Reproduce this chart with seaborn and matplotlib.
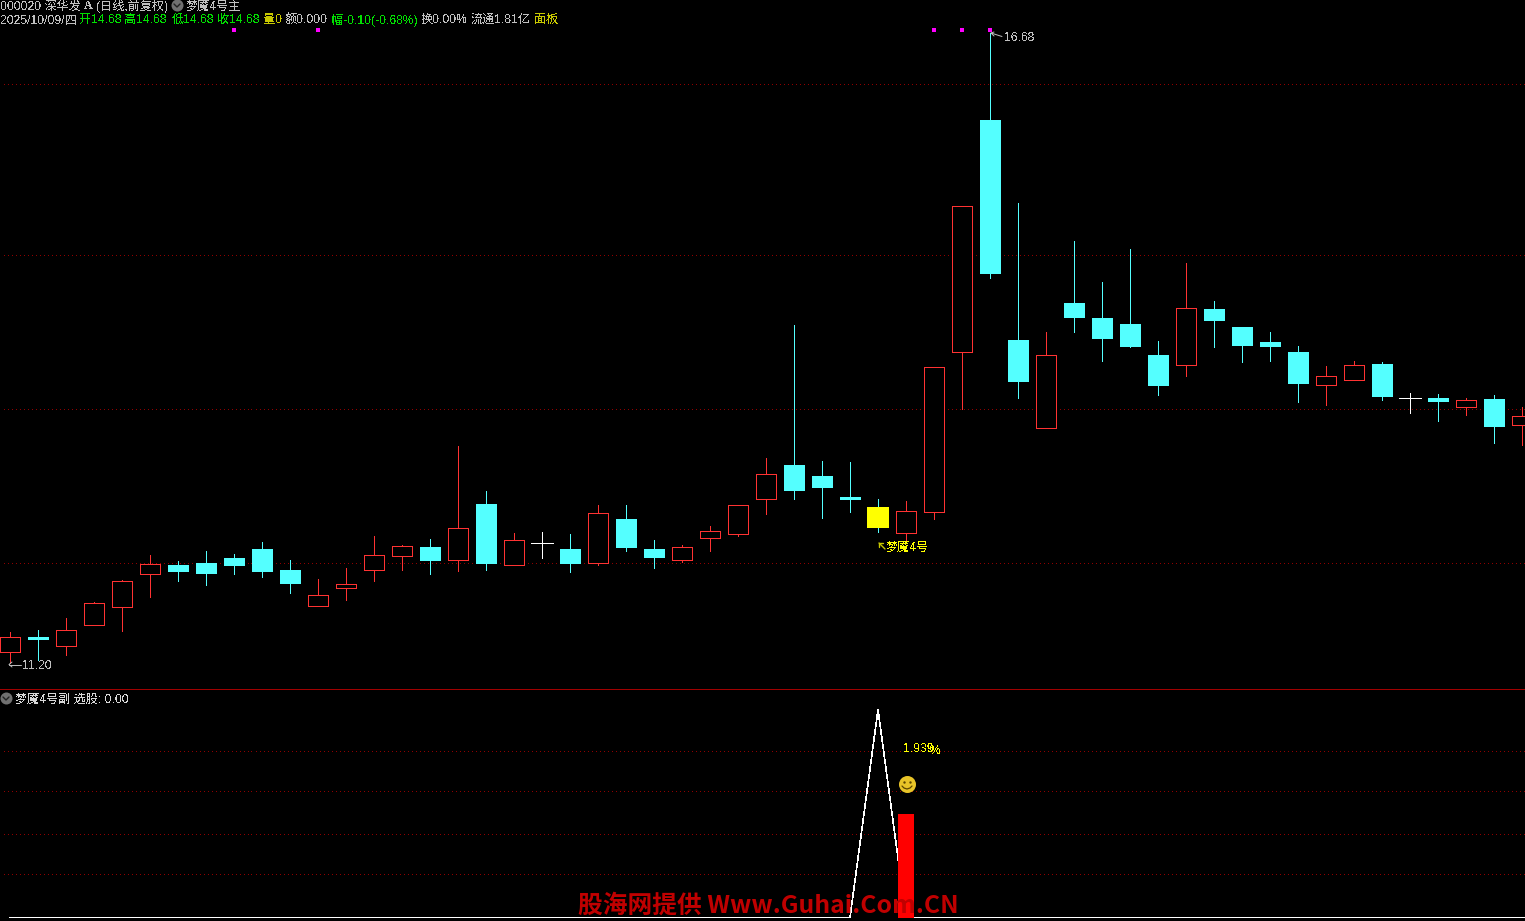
import matplotlib
matplotlib.use("Agg")
import matplotlib.pyplot as plt
import numpy as np
import seaborn as sns

W, H = 1525, 921
PANEL_Y = 689

opens = [11.30, 11.43, 11.35, 11.53, 11.69, 11.97, 12.05, 12.07, 12.11, 12.19, 12.01, 11.70, 11.85, 12.01,
         12.13, 12.21, 12.10, 12.58, 12.05, 12.24, 12.19, 12.07, 12.45, 12.19, 12.10, 12.29, 12.32, 12.63,
         12.92, 12.83, 12.64, 12.56, 12.33, 12.51, 13.90, 15.92, 14.01, 13.24, 14.33, 14.20, 14.15, 13.88,
         13.79, 14.28, 14.12, 13.99, 13.90, 13.62, 13.66, 13.80, 13.50, 13.50, 13.43, 13.50, 13.27]
closes = [11.43, 11.40, 11.49, 11.72, 11.91, 12.06, 11.99, 11.97, 12.04, 11.99, 11.89, 11.79, 11.89, 12.14,
          12.22, 12.09, 12.37, 12.06, 12.27, 12.24, 12.06, 12.50, 12.20, 12.11, 12.21, 12.35, 12.57, 12.84,
          12.70, 12.72, 12.62, 12.37, 12.52, 13.77, 15.17, 14.58, 13.64, 13.88, 14.20, 14.02, 13.95, 13.61,
          14.29, 14.17, 13.96, 13.95, 13.63, 13.70, 13.79, 13.51, 13.50, 13.47, 13.49, 13.25, 13.35]
highs = [11.47, 11.49, 11.59, 11.73, 11.92, 12.14, 12.09, 12.17, 12.15, 12.25, 12.10, 11.93, 12.03, 12.30,
         12.23, 12.28, 13.09, 12.70, 12.33, 12.34, 12.32, 12.57, 12.57, 12.27, 12.23, 12.39, 12.57, 12.98,
         14.14, 12.96, 12.95, 12.63, 12.61, 13.77, 15.17, 16.68, 15.20, 14.08, 14.87, 14.51, 14.80, 14.00,
         14.68, 14.35, 14.12, 14.08, 13.96, 13.78, 13.83, 13.82, 13.55, 13.54, 13.50, 13.53, 13.43]
lows = [11.20, 11.23, 11.27, 11.53, 11.48, 11.77, 11.91, 11.88, 11.97, 11.95, 11.81, 11.70, 11.75, 11.91,
        12.01, 11.97, 12.00, 12.01, 12.05, 12.11, 11.99, 12.05, 12.17, 12.03, 12.08, 12.17, 12.30, 12.50,
        12.63, 12.46, 12.51, 12.34, 12.27, 12.45, 13.41, 14.55, 13.50, 13.24, 14.08, 13.83, 13.95, 13.53,
        13.70, 13.95, 13.82, 13.83, 13.47, 13.44, 13.66, 13.49, 13.37, 13.30, 13.36, 13.11, 13.10]

highlight = 31
signal_days = [8, 11, 33, 34, 35]
price_grid = [16.23, 14.74, 13.40, 12.06]

# one more point than candles, the baseline runs off the right edge
line_vals = [0] * 31 + [2] + [0] * 24
bar_day = [32]
bar_val = [1]
sub_grid = [0.404, 0.798, 1.202, 1.596]

RED = "#ff3232"
CYAN = "#54ffff"
GRID = "#900000"
GREY = "#c0c0c0"
GREEN = "#00e000"
YELLOW = "#ffff00"
OLIVE = "#c8c800"
LW = 0.7

sns.set_style("dark", {"axes.facecolor": "black", "figure.facecolor": "black"})
plt.rcParams['font.family'] = ['Liberation Sans', 'Noto Sans CJK SC', 'DejaVu Sans']
plt.rcParams['text.antialiased'] = False

fig = plt.figure(figsize=(W / 100, H / 100), dpi=100)
ax = fig.add_axes([0, (H - PANEL_Y) / H, 1, PANEL_Y / H])
ax2 = fig.add_axes([0, 0, 1, (H - PANEL_Y - 1) / H])

# one candle every 28 px, first one at x=10
xlim = (-10 / 28, (W - 10) / 28)
days = np.arange(len(opens))
# grid is single pixels, one every 4 px
dot_x = np.arange(xlim[0] + 3.5 / 28, xlim[1], 4 / 28)

for y in price_grid:
    ax.plot(dot_x, [y] * len(dot_x), ",", color=GRID, zorder=1)

for i in days:
    o, c, h, l = opens[i], closes[i], highs[i], lows[i]
    col = "white" if o == c else (RED if c > o else CYAN)
    if i == highlight:
        col = CYAN
    ax.vlines(i, l, h, color=col, lw=LW, zorder=2, antialiased=False)
    if o == c:
        ax.hlines(o, i - 0.38, i + 0.38, color=col, lw=LW, zorder=3, antialiased=False)
    elif i == highlight:
        ax.bar(i, abs(c - o), 0.82, min(o, c), color=YELLOW, linewidth=0, zorder=3, antialiased=False)
    elif c > o:
        ax.bar(i, c - o, 0.73, o, facecolor="black", edgecolor=col, linewidth=LW, zorder=3, antialiased=False)
    else:
        ax.bar(i, o - c, 0.75, c, color=col, linewidth=0, zorder=3, antialiased=False)

sns.scatterplot(x=signal_days, y=[16.70] * len(signal_days), marker="s", s=5,
                color="#ff00ff", linewidth=0, ax=ax, zorder=4)

ax.set_xlim(xlim)
ax.set_ylim(11.2 + (663 - PANEL_Y) / 115, 11.2 + 663 / 115)
ax.axis("off")

for y in sub_grid:
    ax2.plot(dot_x, [y] * len(dot_x), ",", color=GRID, zorder=1)
sns.lineplot(x=np.arange(len(line_vals)), y=line_vals, color="white", lw=0.45, ax=ax2, zorder=2, antialiased=False)
sns.barplot(x=bar_day, y=bar_val, native_scale=True, color="#ff0000", saturation=1, width=0.54,
            linewidth=0, ax=ax2, zorder=3)
ax2.set_xlim(xlim)
ax2.set_ylim(-3.5 / 104, 227.5 / 104)
ax2.axis("off")

fig.add_artist(plt.Line2D([0, 1], [(H - 689.2) / H] * 2, color="#a00000", lw=LW, antialiased=False))


def label(x, y, s, color=GREY, size=8.7, **kw):
    fig.text(x / W, 1 - (y + 1.3) / H, s, color=color, fontsize=size, va="center", ha="left", **kw)


label(0, 5, "000020 深华发")
label(84, 5, "A", fontweight="bold", fontfamily="Liberation Serif")
label(96, 5, "(日线,前复权)")
label(186, 5, "梦魇4号主")
label(0, 19, "2025/10/09/四")
label(79, 19, "开14.68", GREEN)
label(124, 19, "高14.68", GREEN)
label(172, 19, "低14.68", GREEN)
label(217, 19, "收14.68", GREEN)
label(263, 19, "量0", OLIVE)
label(285, 19, "额0.000")
label(331, 19, "幅-0.10(-0.68%)", GREEN)
label(421, 19, "换0.00%")
label(471, 19, "流通1.81亿")
label(534, 19, "面板", OLIVE)
label(1004, 37, "16.68")
label(22.5, 665, "11.20")
label(886, 546, "梦魇4号", YELLOW)
label(15, 698, "梦魇4号副 选股: 0.00", "#d8d8d8")
label(903, 748, "1.939", YELLOW)
label(930, 750, "%", YELLOW)
fig.text(578 / W, 1 - 906 / H, "股海网提供 Www.Guhai.Com.CN", color="#c00000", fontsize=17.8, fontweight="bold",
         family=['Noto Sans CJK SC', 'DejaVu Sans'], va="center", ha="left", antialiased=True)

# menu chevrons, little arrows and the smiley sit on top of everything
over = fig.add_axes([0, 0, 1, 1], facecolor="none")
over.set_xlim(0, W)
over.set_ylim(H, 0)
over.axis("off")
over.scatter([177, 6], [5, 698], s=75, color="#707070", linewidth=0)
for cx, cy in [(177, 5), (6, 698)]:
    over.plot([cx - 3, cx, cx + 3], [cy - 1, cy + 2, cy - 1], color="#222222", lw=1)
over.plot([991, 1002], [33, 36.5], color=GREY, lw=LW)
over.plot([994, 991, 994], [32, 33, 36], color=GREY, lw=LW)
over.plot([9, 21], [664.5, 664.5], color=GREY, lw=LW)
over.plot([12, 9, 12], [662, 664.5, 667], color=GREY, lw=LW)
over.plot([879, 885], [543, 549], color=OLIVE, lw=1)
over.plot([879, 879, 883], [547, 543, 543], color=OLIVE, lw=1)
over.scatter([907], [784], s=150, color="#e8c428", linewidth=0)
over.scatter([904, 910], [782, 782], s=3, color="#5a4500", linewidth=0)
over.plot([902, 904, 907, 910, 912], [786, 788, 789, 788, 786], color="#5a4500", lw=0.9)

fig.savefig("out.png", dpi=100, facecolor="black")
